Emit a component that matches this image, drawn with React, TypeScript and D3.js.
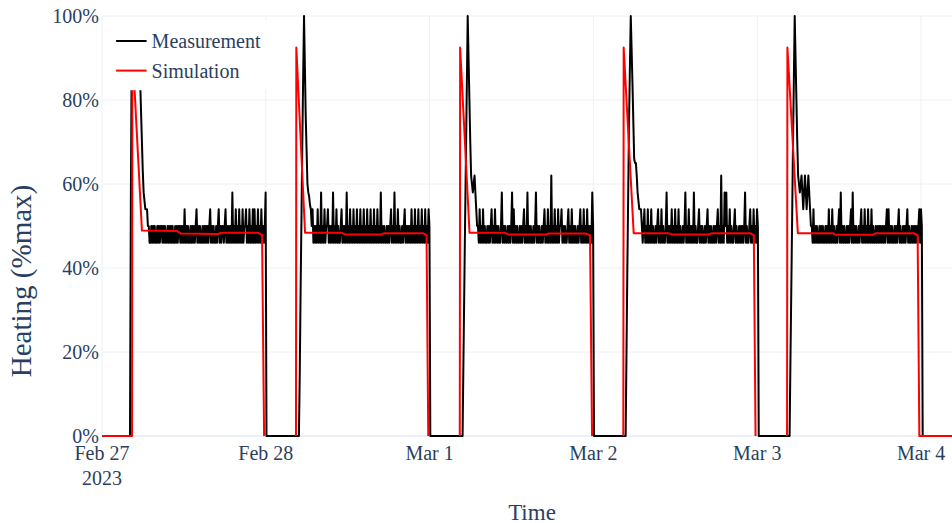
import React from "react";
import * as d3 from "d3";

// ---------- data ----------
const dayStarts = ["2023-02-27", "2023-02-28", "2023-03-01", "2023-03-02", "2023-03-03"];
const xTickDays = ["2023-02-27", "2023-02-28", "2023-03-01", "2023-03-02", "2023-03-03", "2023-03-04"];
const yTicks = [0, 20, 40, 60, 80, 100];

// Measurement: first sample hour of each day, samples every 7.5 min
const measStartHours = [4.1, 4.85, 4.83, 4.72, 4.74];
const measStepHours = 0.125;
const meas1 = [
  0, 55, 90, 93, 95, 95, 95, 95, 95, 94, 92, 88, 84, 77, 70, 63, 58, 56, 54, 54, 54, 50,
  50, 46, 46, 50, 46, 50, 46, 50, 46, 46,
  50, 46, 50, 46, 50, 50, 46, 50, 46, 50,
  46, 46, 50, 46, 50, 46, 50, 46, 50, 46,
  46, 50, 46, 50, 46, 50, 50, 46, 50, 46,
  50, 46, 54, 46, 50, 46, 50, 46, 46, 50,
  46, 50, 46, 50, 46, 50, 54, 46, 50, 46,
  50, 46, 46, 50, 46, 50, 46, 50, 46, 50,
  46, 50, 54, 46, 50, 46, 50, 46, 46, 50,
  46, 50, 54, 46, 50, 46, 50, 50, 46, 50,
  54, 46, 50, 46, 50, 46, 50, 46, 58, 46,
  50, 46, 54, 46, 50, 46, 54, 46, 50, 46,
  54, 46, 50, 50, 54, 46, 50, 46, 54, 46,
  50, 46, 54, 46, 54, 46, 50, 46, 54, 46,
  50, 46, 54, 46, 50, 46,
  50, 58, 0,
];
const meas2 = [
  0, 15, 35, 52, 70, 86, 100, 88, 76, 68,
  60, 58, 57, 55, 54, 50, 54, 46, 50, 46,
  50, 46, 54, 46, 50, 46, 58, 46, 50, 46,
  54, 46, 50, 50, 54, 46, 50, 46, 50, 46,
  58, 46, 50, 46, 54, 46, 50, 46, 46, 50,
  54, 46, 50, 46, 50, 46, 58, 46, 50, 46,
  54, 46, 50, 46, 54, 46, 50, 46, 54, 46,
  50, 46, 54, 46, 50, 46, 54, 46, 50, 46,
  54, 46, 50, 46, 54, 46, 50, 46, 54, 46,
  50, 46, 54, 46, 50, 46, 58, 46, 50, 46,
  50, 46, 46, 50, 46, 50, 46, 50, 54, 46,
  50, 46, 58, 46, 50, 46, 54, 46, 50, 46,
  46, 50, 46, 50, 54, 46, 50, 46, 50, 46,
  50, 46, 54, 46, 50, 46, 54, 46, 50, 46,
  54, 46, 50, 46, 54, 46, 50, 46, 54, 46,
  50, 46, 54, 50, 0,
];
const meas3 = [
  0, 18, 35, 52, 68, 84, 100, 90, 80, 70,
  62, 60, 58, 60, 62, 58, 54, 50, 50, 46,
  54, 46, 50, 46, 54, 46, 50, 46, 46, 50,
  46, 50, 46, 50, 54, 46, 50, 46, 54, 46,
  50, 46, 50, 46, 46, 50, 58, 46, 50, 46,
  50, 46, 46, 50, 46, 50, 46, 50, 58, 46,
  54, 46, 50, 46, 50, 46, 46, 50, 46, 50,
  46, 50, 54, 46, 50, 46, 58, 46, 50, 46,
  50, 46, 46, 50, 46, 50, 58, 46, 50, 46,
  50, 46, 46, 50, 46, 50, 54, 46, 50, 46,
  54, 46, 50, 46, 62, 46, 50, 46, 54, 46,
  50, 46, 54, 46, 50, 50, 54, 46, 50, 46,
  50, 46, 46, 50, 54, 46, 50, 46, 54, 46,
  50, 46, 50, 46, 46, 50, 46, 50, 54, 46,
  50, 46, 54, 46, 50, 46, 54, 46, 50, 46,
  50, 46, 58, 50, 0,
];
const meas4 = [
  0, 20, 40, 58, 75, 88, 100, 92, 84, 75,
  66, 65, 65, 62, 58, 56, 54, 54, 54, 50,
  46, 50, 54, 46, 50, 46, 54, 46, 50, 46,
  54, 46, 50, 46, 46, 50, 46, 50, 54, 46,
  50, 46, 54, 46, 50, 46, 46, 50, 58, 46,
  50, 46, 50, 46, 54, 46, 50, 46, 54, 46,
  50, 46, 54, 46, 50, 46, 46, 50, 46, 50,
  58, 46, 50, 46, 54, 46, 50, 46, 50, 46,
  58, 46, 50, 46, 46, 50, 54, 46, 50, 46,
  50, 46, 46, 50, 46, 50, 54, 46, 50, 46,
  50, 46, 46, 50, 46, 50, 46, 50, 54, 46,
  50, 46, 62, 46, 50, 46, 58, 50, 58, 46,
  50, 46, 54, 46, 50, 46, 46, 50, 54, 46,
  50, 46, 46, 50, 46, 50, 46, 50, 46, 50,
  58, 46, 50, 46, 46, 50, 54, 46, 50, 46,
  54, 46, 50, 46, 54, 50, 0,
];
const meas5 = [
  0, 18, 35, 52, 70, 85, 100, 90, 80, 70,
  62, 60, 58, 60, 62, 58, 54, 58, 62, 58,
  54, 58, 62, 58, 54, 50, 50, 46, 54, 46,
  50, 46, 50, 46, 46, 50, 46, 50, 46, 50,
  46, 46, 50, 46, 50, 46, 54, 46, 50, 46,
  54, 46, 50, 46, 46, 50, 46, 50, 54, 46,
  58, 46, 50, 46, 50, 46, 46, 50, 46, 50,
  46, 50, 54, 46, 58, 46, 50, 46, 50, 46,
  46, 50, 46, 50, 54, 46, 50, 46, 54, 46,
  50, 46, 54, 46, 50, 46, 54, 46, 50, 46,
  46, 50, 46, 50, 46, 50, 46, 50, 46, 50,
  46, 50, 46, 50, 54, 46, 54, 46, 50, 46,
  50, 46, 46, 50, 46, 50, 46, 50, 54, 46,
  50, 46, 46, 50, 46, 50, 46, 50, 54, 46,
  50, 46, 46, 50, 46, 50, 46, 50, 46, 50,
  46, 50, 54, 46, 54, 50, 0,
];
const measDays = [meas1, meas2, meas3, meas4, meas5];

// Simulation: [hour of day, value] per day
const sim1: [number, number][] = [[0, 0], [4.4, 0], [4.45, 92.5], [5.85, 48.9], [11.0, 48.8], [11.6, 48.2], [17.0, 48.1], [17.5, 48.4], [22.8, 48.4], [23.45, 47.9], [23.75, 0]];
const sim2: [number, number][] = [[4.42, 0], [4.47, 92.5], [5.75, 48.4], [11.1, 48.4], [11.6, 48.0], [16.9, 48.0], [17.4, 48.3], [23.0, 48.3], [23.55, 47.8], [23.8, 0]];
const sim3: [number, number][] = [[4.42, 0], [4.47, 92.5], [5.85, 48.4], [11.0, 48.4], [11.5, 48.0], [17.1, 48.0], [17.5, 48.2], [22.9, 48.2], [23.5, 47.8], [23.8, 0]];
const sim4: [number, number][] = [[4.38, 0], [4.43, 92.5], [5.9, 48.3], [11.0, 48.3], [11.5, 48.0], [16.9, 48.0], [17.4, 48.3], [22.9, 48.3], [23.5, 47.8], [23.75, 0]];
const sim5: [number, number][] = [[4.37, 0], [4.42, 92.5], [5.95, 48.3], [11.0, 48.3], [11.5, 47.9], [16.9, 47.9], [17.4, 48.3], [22.9, 48.3], [23.5, 47.8], [23.75, 0], [30.0, 0]];
const simDays = [sim1, sim2, sim3, sim4, sim5];

const seriesNames = ["Measurement", "Simulation"];
const seriesColors = ["#000000", "#ff0000"];

// ---------- layout ----------
const W = 952;
const H = 523;
const L = 102;
const R = 962;
const T = 16;
const B = 436;
const FONT = "'Liberation Serif', 'Times New Roman', serif";
const TXT = "#2a3f5f";
const GRID = "#ebf0f8";

const parseDay = (s: string) => {
  const [yy, mm, dd] = s.split("-").map(Number);
  return new Date(yy, mm - 1, dd);
};
const atHour = (day: Date, h: number) => new Date(day.getTime() + h * 3600 * 1000);

export default function App() {
  const x = d3
    .scaleTime()
    .domain([parseDay("2023-02-27"), atHour(parseDay("2023-03-04"), 6)])
    .range([L, R]);
  const y = d3.scaleLinear().domain([0, 100]).range([B, T]);

  const line = d3
    .line<{ t: Date; v: number }>()
    .x((d) => x(d.t))
    .y((d) => y(d.v));

  const measPts: { t: Date; v: number }[] = [];
  measDays.forEach((vals, i) => {
    const day = parseDay(dayStarts[i]);
    vals.forEach((v, k) => {
      measPts.push({ t: atHour(day, measStartHours[i] + k * measStepHours), v });
    });
  });

  const simPaths = simDays.map((pts, i) => {
    const day = parseDay(dayStarts[i]);
    return line(pts.map(([h, v]) => ({ t: atHour(day, h), v }))) || "";
  });

  const fmt = d3.timeFormat("%b %-d");

  return (
    <div style={{ position: "absolute", left: 0, top: 0 }}>
      <svg width={W} height={H} style={{ display: "block", background: "#fff" }} fontFamily={FONT}>
        <defs>
          <clipPath id="plotclip">
            <rect x={L} y={T - 2} width={R - L} height={B - T + 4} />
          </clipPath>
        </defs>
        {/* grid */}
        {xTickDays.map((d) => (
          <line key={d} x1={x(parseDay(d))} x2={x(parseDay(d))} y1={T} y2={B} stroke={GRID} strokeWidth={1} />
        ))}
        {yTicks.map((v) => (
          <line key={v} x1={L} x2={R} y1={y(v)} y2={y(v)} stroke={GRID} strokeWidth={v === 0 ? 2 : 1} />
        ))}
        {/* series */}
        <g clipPath="url(#plotclip)">
          <path d={line(measPts) || ""} fill="none" stroke={seriesColors[0]} strokeWidth={2} strokeLinejoin="round" />
          {simPaths.map((p, i) => (
            <path key={i} d={p} fill="none" stroke={seriesColors[1]} strokeWidth={2} strokeLinejoin="round" />
          ))}
        </g>
        {/* y ticks */}
        {yTicks.map((v) => (
          <text key={v} x={99} y={y(v) + 7} textAnchor="end" fontSize={20} fill={TXT}>
            {v}%
          </text>
        ))}
        {/* x ticks */}
        {xTickDays.map((d, i) => {
          const dt = parseDay(d);
          return (
            <text key={d} x={x(dt)} y={460} textAnchor="middle" fontSize={20} fill={TXT}>
              {fmt(dt)}
              {i === 0 ? (
                <tspan x={x(dt)} y={485}>
                  {d3.timeFormat("%Y")(dt)}
                </tspan>
              ) : null}
            </text>
          );
        })}
        {/* axis titles */}
        <text x={(L + R) / 2} y={520} textAnchor="middle" fontSize={23} fill={TXT}>
          Time
        </text>
        <text transform="translate(31,281) rotate(-90)" textAnchor="middle" fontSize={29} fill={TXT}>
          Heating (%max)
        </text>
        {/* legend */}
        <g transform="translate(110.6,20.2)">
          <rect x={0} y={0} width={161} height={70} fill="#fff" />
          {seriesNames.map((n, i) => (
            <g key={n} transform={`translate(0,${20.8 + i * 29.6})`}>
              <line x1={5.5} x2={36} y1={0} y2={0} stroke={seriesColors[i]} strokeWidth={2} />
              <text x={41} y={7} fontSize={20} fill={TXT}>
                {n}
              </text>
            </g>
          ))}
        </g>
      </svg>
    </div>
  );
}
